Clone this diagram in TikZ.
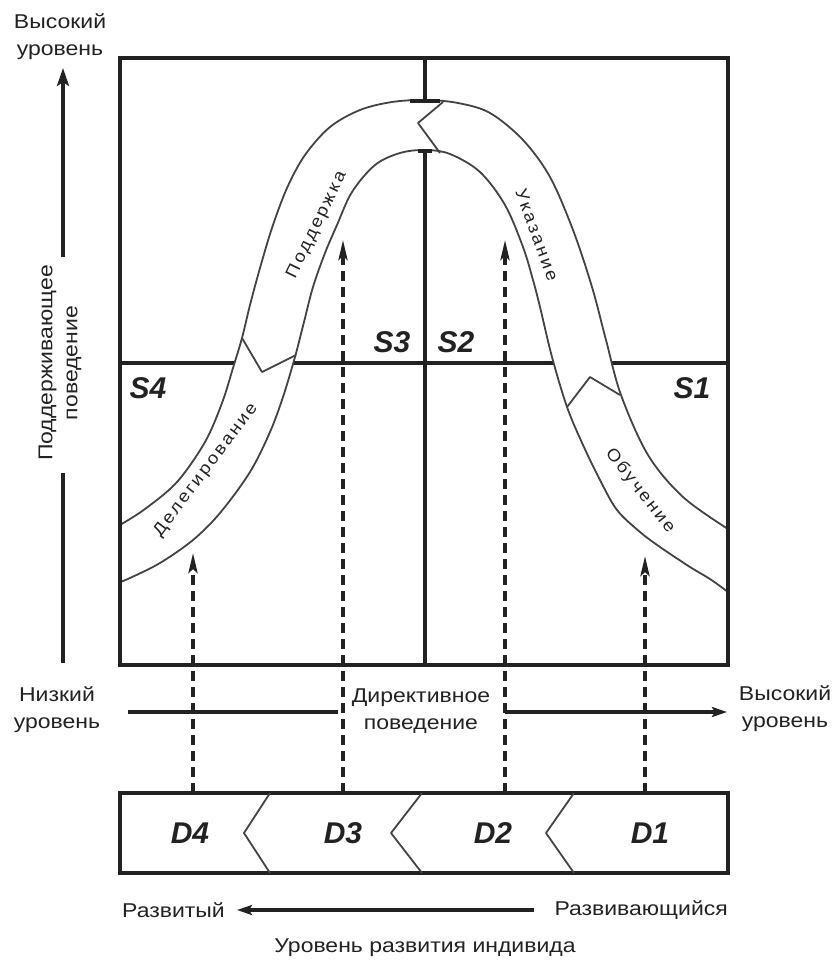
\documentclass[tikz,border=0pt]{standalone}
\usepackage{fontspec}
\setmainfont{Liberation Sans}
\newfontfamily\axisfont{Liberation Sans}[FakeStretch=1.15]
\newfontfamily\bandfont{Liberation Sans}[FakeStretch=1.1,LetterSpace=14]
\usetikzlibrary{arrows.meta}
\definecolor{ink}{HTML}{222222}

\begin{document}
\begin{tikzpicture}[x=1pt,y=-1pt,
  frame/.style={draw=ink,line width=4.5pt},
  divider/.style={draw=ink,line width=3.5pt},
  bandedge/.style={draw=ink!85,line width=1.8pt,line join=round},
  axisline/.style={draw=ink,line width=4pt},
  probe/.style={draw=ink,line width=3.5pt,dash pattern=on 10pt off 6pt,
    -{Stealth[length=20pt,width=9pt,inset=4pt]}},
  axislabel/.style={font=\axisfont\fontsize{20}{27}\selectfont,text=ink,align=center,inner sep=0pt},
  bandlabel/.style={font=\bandfont\fontsize{17}{18}\selectfont,text=ink,inner sep=0pt},
  quad/.style={font=\bfseries\itshape\fontsize{30}{30}\selectfont,text=ink,inner sep=0pt},
]
\useasboundingbox (0,0) rectangle (835,961);

% quadrant dividers
\draw[divider] (425,58) -- (425,665);
\draw[divider] (120,363) -- (728,363);

% leadership-style band (white, covers the dividers)
\path[bandedge,fill=white]
  plot[smooth,tension=0.55] coordinates {(120,525) (145,509) (177,482) (205,442) (222,403) (233,368) (242,338) (250,305) (260,268) (272,228) (287,188) (305,155) (330,127) (360,110) (392,102) (425,100) (458,103) (490,113) (523,140) (550,177) (573,230) (592,287) (606,340) (621,395) (648,455) (683,497) (728,529)}
  -- plot[smooth,tension=0.55] coordinates {(728,592) (710,579) (690,567) (660,547) (640,532) (617,510) (600,480) (583,445) (567,407) (552,357) (540,307) (533,280) (523,247) (505,205) (480,172) (450,154) (425,150) (400,153) (375,165) (352,192) (337,225) (325,253) (313,287) (304,322) (295,357) (283,397) (270,432) (250,472) (220,513) (193,540) (160,563) (130,578) (120,582)}
  -- cycle;

% joints between the four styles
\draw[bandedge] (567,407) -- (590,377) -- (620,395);
\draw[bandedge] (443,102) -- (418,123) -- (440,153);
\draw[bandedge] (242,338) -- (262,372) -- (296,355);

% ends of the centre divider at the band
\draw[divider] (410,101) -- (440,101);
\draw[divider] (418,151) -- (432,151);

% outer frame
\draw[frame] (120,58) rectangle (728,665);

% quadrant names
\node[quad] (s4) at (148,388) {S4};
\node[quad] (s3) at (392,342) {S3};
\node[quad] (s2) at (456,342) {S2};
\node[quad] (s1) at (692,388) {S1};

% style names along the band
\node[bandlabel,rotate=-52] (teach) at (640,491) {Обучение};
\node[bandlabel,rotate=-70] (direct) at (537,235) {Указание};
\node[bandlabel,rotate=64] (support) at (317,225) {Поддержка};
\node[bandlabel,rotate=53] (deleg) at (206,470) {Делегирование};

% development levels
\draw[frame] (120,793) rectangle (728,873);
\draw[bandedge] (270,793) -- (244,833) -- (270,873);
\draw[bandedge] (422,793) -- (391,833) -- (422,873);
\draw[bandedge] (574,793) -- (546,833) -- (574,873);
\node[quad] (d4) at (190,833) {D4};
\node[quad] (d3) at (343,833) {D3};
\node[quad] (d2) at (493,833) {D2};
\node[quad] (d1) at (650,833) {D1};

% dashed links from each level up to its style
\coordinate (p4a) at (193,793); \coordinate (p4b) at (193,553);
\coordinate (p3a) at (343,793); \coordinate (p3b) at (343,240);
\coordinate (p2a) at (505,793); \coordinate (p2b) at (505,240);
\coordinate (p1a) at (645,793); \coordinate (p1b) at (645,556);
\draw[probe] (p4a) -- (p4b);
\draw[probe] (p3a) -- (p3b);
\draw[probe] (p2a) -- (p2b);
\draw[probe] (p1a) -- (p1b);

% vertical axis: supportive behaviour
\node[axislabel] (hiY) at (60,37) {Высокий\\уровень};
\node[axislabel,rotate=90,font=\axisfont\fontsize{20}{25}\selectfont] (supp) at (60,363) {Поддерживающее\\поведение};
\coordinate (ya) at (63,663); \coordinate (yb) at (63,473);
\coordinate (yc) at (63,257); \coordinate (yd) at (63,68);
\draw[axisline] (ya) -- (yb);
\draw[axisline,-{Stealth[length=18pt,width=12pt,inset=4pt]}] (yc) -- (yd);

% horizontal axis: directive behaviour
\node[axislabel] (loX) at (57,710) {Низкий\\уровень};
\node[axislabel] (dir) at (421,711) {Директивное\\поведение};
\node[axislabel] (hiX) at (785,709) {Высокий\\уровень};
\coordinate (xa) at (128,712); \coordinate (xb) at (338,712);
\coordinate (xc) at (505,712); \coordinate (xd) at (727,712);
\draw[axisline] (xa) -- (xb);
\draw[axisline,-{Stealth[length=15pt,width=10pt,inset=3pt]}] (xc) -- (xd);

% development axis
\node[axislabel,anchor=west] (devd) at (122,910) {Развитый};
\node[axislabel,anchor=east] (devg) at (728,910) {Развивающийся};
\coordinate (da) at (534,910); \coordinate (db) at (237,910);
\draw[axisline,-{Stealth[length=15pt,width=10pt,inset=3pt]}] (da) -- (db);
\node[axislabel] (lvl) at (425,948) {Уровень развития индивида};
\end{tikzpicture}
\end{document}
